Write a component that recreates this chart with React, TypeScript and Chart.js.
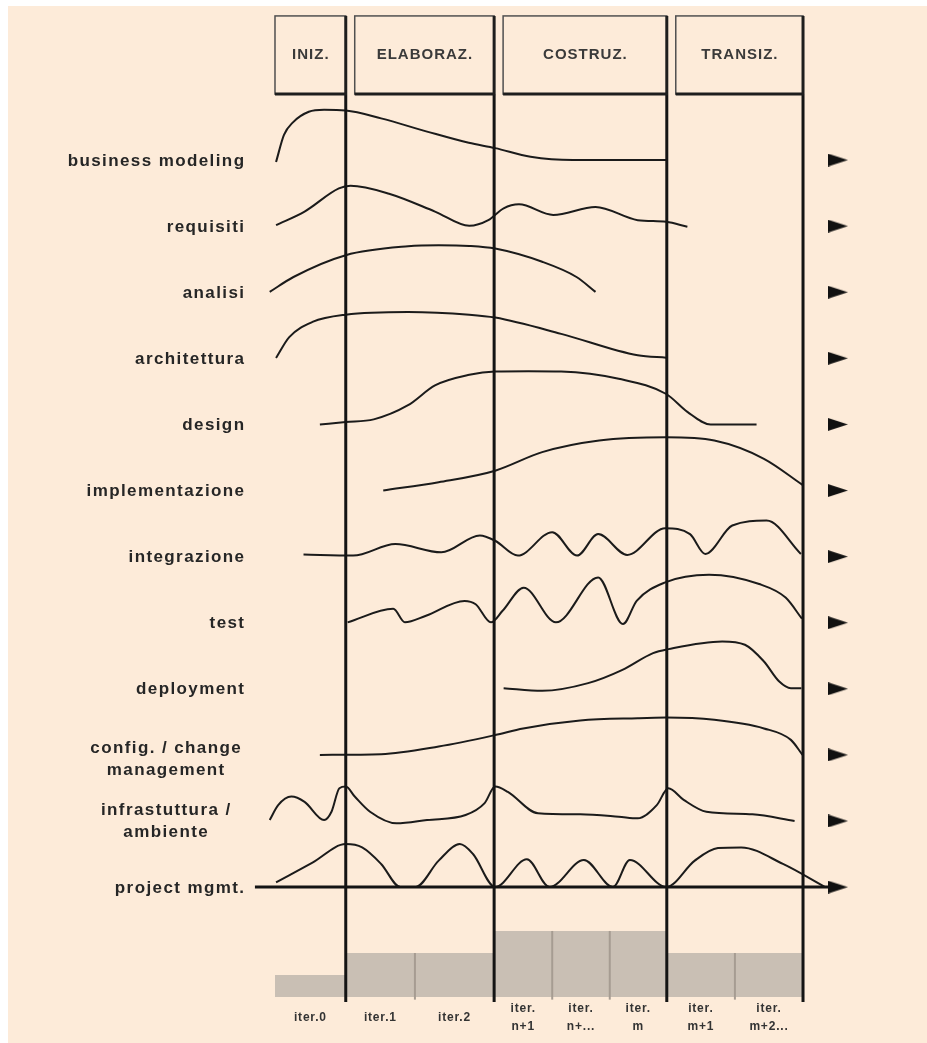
import React, { useEffect, useRef } from "react";
import { Chart, registerables } from "chart.js";

Chart.register(...registerables);

// ---------------- data ----------------
// project time in % (0 = start of iter.0, 100 = end of transition)
const phases = ["INIZ.", "ELABORAZ.", "COSTRUZ.", "TRANSIZ."];
const phaseEnds = [13.4, 41.5, 74.2, 100];

const iterationStarts = [0, 13.4, 26.5, 41.5, 52.5, 63.4, 74.2, 87.1];
const iterationEffort = [1, 2, 2, 3, 3, 3, 2, 2];
const iterationLabels = [
  ["iter.0"],
  ["iter.1"],
  ["iter.2"],
  ["iter.", "n+1"],
  ["iter.", "n+..."],
  ["iter.", "m"],
  ["iter.", "m+1"],
  ["iter.", "m+2..."],
];

const activities = [
  ["business modeling"],
  ["requisiti"],
  ["analisi"],
  ["architettura"],
  ["design"],
  ["implementazione"],
  ["integrazione"],
  ["test"],
  ["deployment"],
  ["config. / change", "management"],
  ["infrastuttura /", "ambiente"],
  ["project mgmt."],
];

// [time %, effort % of row height]
const businessModeling = [[0.2, -3], [1.7, 38], [3.4, 57], [6.4, 73], [9.3, 76], [13.4, 75], [20.1, 63], [28.8, 43], [36.7, 26], [41.7, 18], [48.4, 5], [56.4, 0], [74.1, 0]];
const requisiti = [[0.2, 1.5], [5.6, 22], [12.1, 57], [14.3, 61], [21.6, 49], [30.3, 22], [36.8, 0.5], [40.4, 9], [43.3, 27], [46.2, 33], [52.7, 17], [60.7, 29], [68.7, 9], [74.1, 6.5], [78.1, -1]];
const analisi = [[-1, 0.5], [3.5, 23], [13.4, 56], [25.2, 69.5], [31, 71], [36.8, 70], [41.7, 66], [50.6, 46], [57.1, 23], [60.7, 0.5]];
const architettura = [[0.2, 0.5], [2.7, 32], [7.1, 55], [13.4, 66], [25.2, 70], [36.8, 66], [41.7, 61.6], [54.2, 37], [68.7, 4.5], [74.1, 1]];
const design = [[8.5, 0], [13.4, 3.5], [18.7, 7.6], [25.2, 29], [30.3, 59], [36.8, 75], [41.7, 80], [48, 80.5], [54.2, 80], [65.1, 69], [74.1, 46], [78.1, 19], [82.5, 0], [91.2, 0]];
const implementazione = [[20.5, 0], [31, 12.6], [41.7, 30], [50.6, 58], [61.4, 75.6], [74.1, 80.6], [83.2, 75.6], [92.6, 48], [99.9, 8.6]];
const integrazione = [[5.4, 3], [14.8, 1.5], [22.8, 19], [31.5, 6.5], [38.8, 32], [41.7, 24], [46, 1.5], [52.5, 37], [57.2, 1.5], [61.2, 34], [66.7, 2.6], [73.9, 43], [78.6, 34], [81.5, 4], [86.6, 47], [93.1, 54.5], [99.6, 4]];
const test = [[13.75, 0.5], [22.4, 21], [24.6, 0.5], [28.6, 10.6], [35.9, 33], [38, 28], [40.9, 0.5], [43.1, 18], [47.1, 53], [53.2, 0.5], [61.2, 68.5], [65.9, -2], [68.5, 33], [73.9, 61], [82.2, 72.6], [91.7, 58.5], [96.7, 38], [99.8, 6]];
const deployment = [[43.3, 1], [50.6, -3], [59.3, 8.6], [65.8, 28.7], [71.6, 54], [74.5, 60], [84.7, 71.6], [89, 66.6], [92.6, 41.3], [95.5, 11], [97.7, 1], [99.7, 1]];
const configMgmt = [[8.5, 0], [20.1, 1], [31, 12.6], [41.7, 30], [47, 40], [57.8, 52], [68.7, 55.5], [74.1, 56.4], [83.2, 53], [92.6, 40], [97.7, 22.7], [99.9, 0]];
const infrastruttura = [[-1, 1.5], [0.6, 24], [3.1, 37], [5.6, 29], [9.3, 1.5], [10.7, 14], [12.2, 49.5], [13.4, 52], [15.1, 37], [18, 14], [23, -3.5], [28.8, 1.5], [36.1, 9], [39.7, 27], [41.7, 52], [44.1, 44], [49.8, 11.6], [57.8, 10], [65.1, 6.5], [68.7, 4], [72.3, 24], [74.5, 49.5], [77.4, 32], [81.7, 14], [90.4, 10], [98.4, 0]];
const projectMgmt = [[0.2, 7], [7.1, 37], [13.4, 65], [16.5, 60], [20.1, 35], [23.75, 0], [26.6, 0], [31, 40], [35, 65], [37.5, 50], [41.7, 0], [47.7, 42], [52, 0], [58.5, 41], [64, 0], [67.2, 41], [74.1, 0], [79.5, 40], [83.9, 59], [88.3, 60], [96.2, 35], [104.2, 0]];

const curves = [businessModeling, requisiti, analisi, architettura, design, implementazione, integrazione, test, deployment, configMgmt, infrastruttura, projectMgmt];

// ---------------- layout (scale units) ----------------
const ROW = 100; // one activity row
const T_MIN = -52.08;
const T_MAX = 123.48;
const V_MIN = -242.1;
const V_MAX = 1335.9;
const BOX_TOP = -218;
const PHASE_TOP = -99.8;
const PHASE_BOTTOM = 1274;
const BOX_GAP = 1.7;
const BAR_BASE = 1266.3;
const BAR_UNIT = 33.3;
const ARROW_T = 106.6;
const AXIS_START = -3.8;
const AXIS_END = 105;
const LABEL_RIGHT_T = -5.6;
const LABEL_CENTER_T = -20.6;
const ITER_LABEL_Y = 1298;
const INK = "#1b1b1b";
const PEACH = "#fdebd9";

function makeArrow() {
  const c = document.createElement("canvas");
  c.width = 20;
  c.height = 13;
  const g = c.getContext("2d")!;
  g.fillStyle = "#111";
  g.beginPath();
  g.moveTo(0, 0);
  g.lineTo(20, 6.5);
  g.lineTo(0, 13);
  g.closePath();
  g.fill();
  return c;
}

const rupPlugin = {
  id: "rupDecor",
  beforeDraw(chart: any) {
    const { ctx, width, height } = chart;
    ctx.save();
    ctx.fillStyle = "#ffffff";
    ctx.fillRect(0, 0, width, height);
    ctx.fillStyle = PEACH;
    ctx.fillRect(8, 6, width - 8, height - 6);
    ctx.restore();
  },
  afterDatasetsDraw(chart: any) {
    const { ctx } = chart;
    const xs = chart.scales.x;
    const ys = chart.scales.y;
    ctx.save();

    // phase boxes
    const top = ys.getPixelForValue(BOX_TOP);
    const bottom = ys.getPixelForValue(PHASE_TOP);
    phases.forEach((p, i) => {
      const l = xs.getPixelForValue(i === 0 ? iterationStarts[0] : phaseEnds[i - 1] + BOX_GAP);
      const r = xs.getPixelForValue(phaseEnds[i]);
      ctx.strokeStyle = "#505050";
      ctx.lineWidth = 1.5;
      ctx.strokeRect(l, top, r - l, bottom - top);
      ctx.strokeStyle = "#1e1e1e";
      ctx.lineWidth = 3;
      ctx.beginPath();
      ctx.moveTo(l, bottom);
      ctx.lineTo(r + 1, bottom);
      ctx.moveTo(r, top);
      ctx.lineTo(r, bottom);
      ctx.stroke();
      ctx.fillStyle = "#3a3a3a";
      ctx.font = 'bold 15px "Liberation Sans", Arial, sans-serif';
      (ctx as any).letterSpacing = "1px";
      ctx.textAlign = "center";
      ctx.textBaseline = "middle";
      ctx.fillText(p, (l + r) / 2 + 0.5, (top + bottom) / 2);
    });

    // activity labels
    ctx.fillStyle = "#262626";
    ctx.font = 'bold 17px "Liberation Sans", Arial, sans-serif';
    (ctx as any).letterSpacing = "1.4px";
    ctx.textBaseline = "middle";
    const lineGap = 22;
    const shifts = [0, 0, 0, 0, 0, 0, 0, 0, 0, 4, 0, 0];
    activities.forEach((lines, row) => {
      const cy = ys.getPixelForValue(row * ROW);
      if (lines.length === 1) {
        ctx.textAlign = "right";
        ctx.fillText(lines[0], xs.getPixelForValue(LABEL_RIGHT_T), cy + 1);
      } else {
        ctx.textAlign = "center";
        const cx = xs.getPixelForValue(LABEL_CENTER_T);
        lines.forEach((ln, k) => {
          ctx.fillText(ln, cx, cy + shifts[row] + (k - (lines.length - 1) / 2) * lineGap);
        });
      }
    });

    // iteration labels
    ctx.fillStyle = "#333";
    ctx.font = 'bold 12px "Liberation Sans", Arial, sans-serif';
    (ctx as any).letterSpacing = "0.8px";
    ctx.textAlign = "center";
    const labY = ys.getPixelForValue(ITER_LABEL_Y);
    iterationLabels.forEach((lines, i) => {
      const s = iterationStarts[i];
      const e = i + 1 < iterationStarts.length ? iterationStarts[i + 1] : phaseEnds[phaseEnds.length - 1];
      const cx = xs.getPixelForValue((s + e) / 2);
      lines.forEach((ln, k) => {
        ctx.fillText(ln, cx, labY + (k - (lines.length - 1) / 2) * 18);
      });
    });
    (ctx as any).letterSpacing = "0px";
    ctx.restore();
  },
};

export default function App() {
  const ref = useRef<HTMLCanvasElement>(null);

  useEffect(() => {
    if (!ref.current) return;

    const curveSets = curves.map((pts, row) => ({
      data: pts.map(([t, e]) => ({ x: t, y: row * ROW - e })),
      borderColor: INK,
      borderWidth: 2,
      pointRadius: 0,
      cubicInterpolationMode: "monotone",
      fill: false,
      order: 5,
    }));

    const phaseLineSets = phaseEnds.map((t) => ({
      data: [
        { x: t, y: PHASE_TOP },
        { x: t, y: PHASE_BOTTOM },
      ],
      borderColor: "#141414",
      borderWidth: 3,
      pointRadius: 0,
      fill: false,
      order: 1,
    }));

    const barData = iterationStarts.map((s, i) => ({ x: s, y: BAR_BASE - iterationEffort[i] * BAR_UNIT }));
    barData.push({ x: phaseEnds[phaseEnds.length - 1], y: barData[barData.length - 1].y });
    const barSet = {
      data: barData,
      stepped: true,
      fill: { value: BAR_BASE },
      backgroundColor: "#c9bfb4",
      borderColor: "rgba(0,0,0,0)",
      borderWidth: 0,
      pointRadius: 0,
      order: 10,
    };

    const separatorSets = iterationStarts
      .map((s, i) => ({ s, i }))
      .filter(({ s }) => s > 0 && !phaseEnds.includes(s))
      .map(({ s, i }) => ({
        data: [
          { x: s, y: BAR_BASE + 4 },
          { x: s, y: BAR_BASE - iterationEffort[i] * BAR_UNIT },
        ],
        borderColor: "#a69c92",
        borderWidth: 2,
        pointRadius: 0,
        fill: false,
        order: 9,
      }));

    const axisSet = {
      data: [
        { x: AXIS_START, y: 11 * ROW },
        { x: AXIS_END, y: 11 * ROW },
      ],
      borderColor: "#141414",
      borderWidth: 3,
      pointRadius: 0,
      fill: false,
      order: 2,
    };

    const arrowSet = {
      data: activities.map((_, row) => ({ x: ARROW_T, y: row * ROW })),
      showLine: false,
      pointStyle: makeArrow(),
      pointRadius: 8,
      order: 0,
    };

    const chart = new Chart(ref.current, {
      type: "line",
      data: {
        datasets: [arrowSet, ...phaseLineSets, axisSet, ...curveSets, ...separatorSets, barSet] as any,
      },
      options: {
        animation: false,
        responsive: false,
        events: [],
        layout: { padding: 0, autoPadding: false },
        plugins: { legend: { display: false }, tooltip: { enabled: false } },
        scales: {
          x: { type: "linear", display: false, min: T_MIN, max: T_MAX },
          y: { type: "linear", display: false, min: V_MIN, max: V_MAX, reverse: true },
        },
      } as any,
      plugins: [rupPlugin],
    });
    return () => chart.destroy();
  }, []);

  return (
    <div style={{ position: "absolute", left: 0, top: 0, width: 927, height: 1043, background: "#fff" }}>
      <canvas ref={ref} width={927} height={1043} style={{ display: "block", width: 927, height: 1043 }} />
    </div>
  );
}
